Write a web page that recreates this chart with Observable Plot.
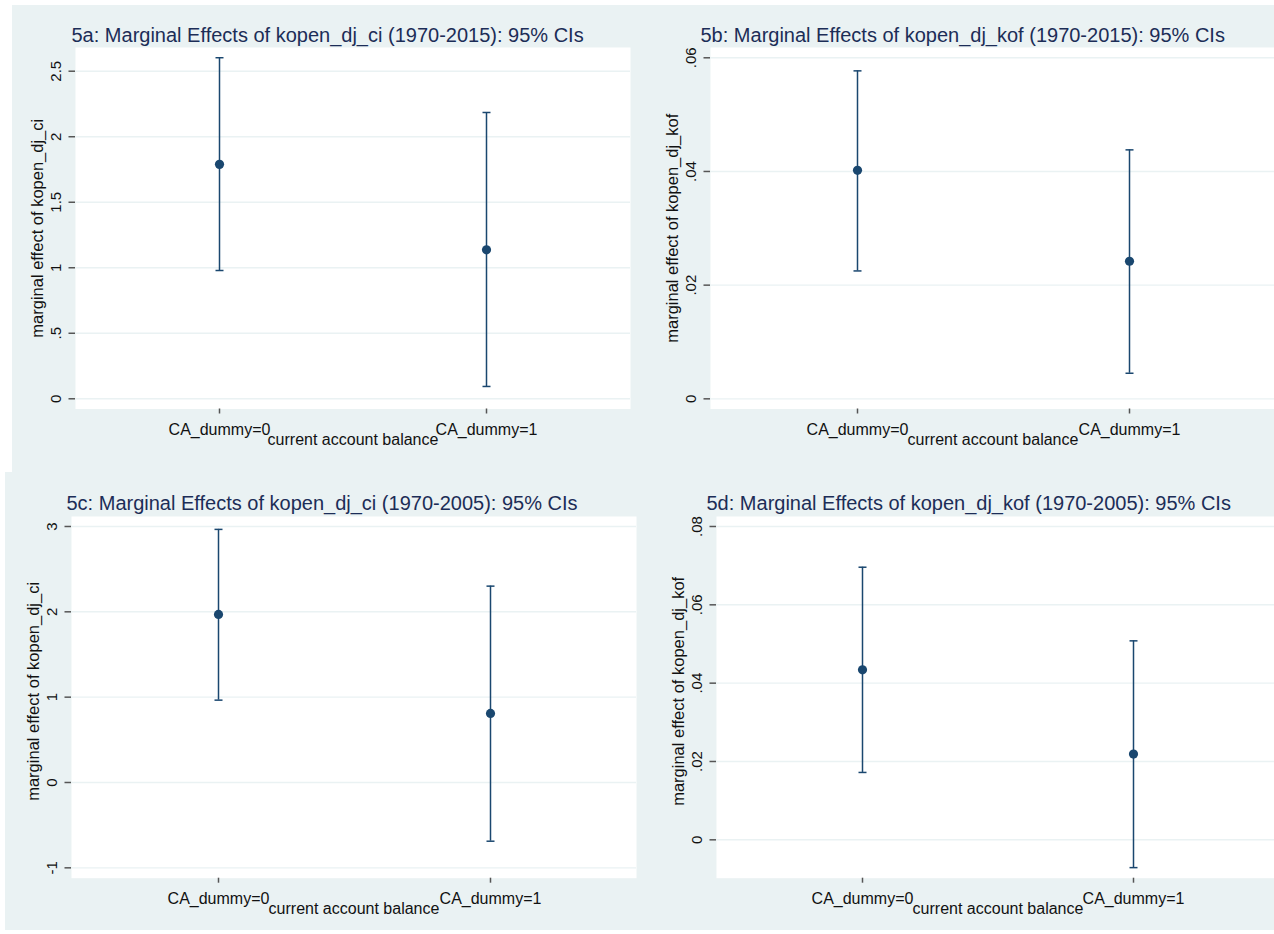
<!DOCTYPE html>
<html>
<head>
<meta charset="utf-8">
<script src="https://cdn.jsdelivr.net/npm/d3@7"></script>
<script src="https://cdn.jsdelivr.net/npm/@observablehq/plot@0.6"></script>
<style>
  html, body { margin: 0; padding: 0; background: #ffffff; width: 1274px; height: 934px; overflow: hidden; }
  .panel { position: absolute; overflow: hidden; background: #eaf2f3; }
  .panel svg { display: block; max-width: none; }
</style>
</head>
<body>
<div id="p5a" class="panel" style="left:12px;top:5px;width:628px;height:467px"></div>
<div id="p5b" class="panel" style="left:640px;top:5px;width:634px;height:467px"></div>
<div id="p5c" class="panel" style="left:5px;top:472px;width:635px;height:458px"></div>
<div id="p5d" class="panel" style="left:640px;top:472px;width:634px;height:458px"></div>
<script>
// ---- data ----
const categories = ["CA_dummy=0", "CA_dummy=1"];

const est5a = [1.789, 1.137];
const lo5a  = [0.979, 0.094];
const hi5a  = [2.603, 2.185];

const est5b = [0.0402, 0.0242];
const lo5b  = [0.0225, 0.0045];
const hi5b  = [0.0577, 0.0438];

const est5c = [1.970, 0.809];
const lo5c  = [0.965, -0.688];
const hi5c  = [2.966, 2.301];

const est5d = [0.0434, 0.0219];
const lo5d  = [0.0172, -0.0071];
const hi5d  = [0.0696, 0.0508];

const ticks5a = [0, 0.5, 1, 1.5, 2, 2.5];
const ticks5b = [0, 0.02, 0.04, 0.06];
const ticks5c = [-1, 0, 1, 2, 3];
const ticks5d = [0, 0.02, 0.04, 0.06, 0.08];

const titles = [
  "5a: Marginal Effects of kopen_dj_ci (1970-2015): 95% CIs",
  "5b: Marginal Effects of kopen_dj_kof (1970-2015): 95% CIs",
  "5c: Marginal Effects of kopen_dj_ci (1970-2005): 95% CIs",
  "5d: Marginal Effects of kopen_dj_kof (1970-2005): 95% CIs"
];
const yTitles = [
  "marginal effect of kopen_dj_ci",
  "marginal effect of kopen_dj_kof",
  "marginal effect of kopen_dj_ci",
  "marginal effect of kopen_dj_kof"
];
const xTitle = "current account balance";

// ---- helpers ----
const NAVY = "#1a476f";
const BG = "#eaf2f3";
const FONT = "'Liberation Sans', Arial, Helvetica, sans-serif";
const fmt = d => String(+(+d).toFixed(4)).replace(/^(-?)0\./, "$1.");
const capSymbol = {
  draw(context, size) {
    const r = Math.sqrt(size / Math.PI);
    context.moveTo(-r, 0);
    context.lineTo(r, 0);
  }
};

function rowsOf(est, lo, hi) {
  return categories.map((c, i) => ({cat: c, est: est[i], lo: lo[i], hi: hi[i]}));
}

function panel(cfg) {
  const rows = rowsOf(cfg.est, cfg.lo, cfg.hi);
  const chart = Plot.plot({
    width: cfg.width,
    height: cfg.height,
    marginLeft: cfg.ml,
    marginTop: cfg.mt,
    marginRight: cfg.mr,
    marginBottom: cfg.mb,
    style: {background: BG, fontFamily: FONT, maxWidth: "none", overflow: "visible"},
    x: {type: "point", domain: categories, padding: 0.538, align: 0.5},
    y: {domain: cfg.ydomain},
    marks: [
      Plot.frame({fill: "white", stroke: "none"}),
      Plot.gridY(cfg.ticks, {stroke: BG, strokeOpacity: 1, strokeWidth: 1.4}),
      Plot.axisY(cfg.ticks, {
        tickSize: 6.5, tickPadding: 8, tickRotate: -90, tickFormat: fmt,
        fontSize: 15, stroke: "#555", fill: "#111", strokeWidth: 1.5, line: true, label: null
      }),
      Plot.axisX({
        tickSize: 5, tickPadding: 9.5, fontSize: 16,
        stroke: "#555", fill: "#111", strokeWidth: 1.5, line: true, label: null
      }),
      Plot.ruleX(rows, {x: "cat", y1: "lo", y2: "hi", stroke: NAVY, strokeWidth: 1.5}),
      Plot.dot(rows, {x: "cat", y: "hi", symbol: capSymbol, r: 4, stroke: NAVY, strokeWidth: 1.5, fill: "none"}),
      Plot.dot(rows, {x: "cat", y: "lo", symbol: capSymbol, r: 4, stroke: NAVY, strokeWidth: 1.5, fill: "none"}),
      Plot.dot(rows, {x: "cat", y: "est", r: 4.6, fill: NAVY, stroke: "none"}),
      Plot.text([cfg.title], {
        frameAnchor: "top-left", dx: cfg.tdx, dy: cfg.tdy,
        textAnchor: "start", lineAnchor: "bottom", fontSize: 20, fill: "#1c2d57"
      }),
      Plot.text([cfg.ytitle], {
        frameAnchor: "left", dx: -33, dy: cfg.ydy, rotate: -90,
        textAnchor: "middle", lineAnchor: "bottom", fontSize: 16.5, fill: "#111"
      }),
      Plot.text([xTitle], {
        frameAnchor: "bottom", dy: 36,
        textAnchor: "middle", lineAnchor: "bottom", fontSize: 16, fill: "#111"
      })
    ]
  });
  document.getElementById(cfg.id).appendChild(chart);
}

panel({id: "p5a", width: 628, height: 467, ml: 63, mt: 42, mr: 10, mb: 63.5,
  ydomain: [-0.078, 2.681], ticks: ticks5a, est: est5a, lo: lo5a, hi: hi5a,
  title: titles[0], ytitle: yTitles[0], tdx: -4, tdy: -5.3, ydy: 0});
panel({id: "p5b", width: 635, height: 467, ml: 70, mt: 42, mr: 0, mb: 63.5,
  ydomain: [-0.00179, 0.06181], ticks: ticks5b, est: est5b, lo: lo5b, hi: hi5b,
  title: titles[1], ytitle: yTitles[1], tdx: -10, tdy: -5.3, ydy: 0});
panel({id: "p5c", width: 635, height: 458, ml: 66, mt: 44, mr: 4, mb: 52.3,
  ydomain: [-1.1215, 3.117], ticks: ticks5c, est: est5c, lo: lo5c, hi: hi5c,
  title: titles[2], ytitle: yTitles[2], tdx: -5, tdy: -7, ydy: -6});
panel({id: "p5d", width: 639, height: 458, ml: 76, mt: 44, mr: 0, mb: 52.3,
  ydomain: [-0.0098, 0.08255], ticks: ticks5d, est: est5d, lo: lo5d, hi: hi5d,
  title: titles[3], ytitle: yTitles[3], tdx: -10, tdy: -7, ydy: -6});
</script>
</body>
</html>
